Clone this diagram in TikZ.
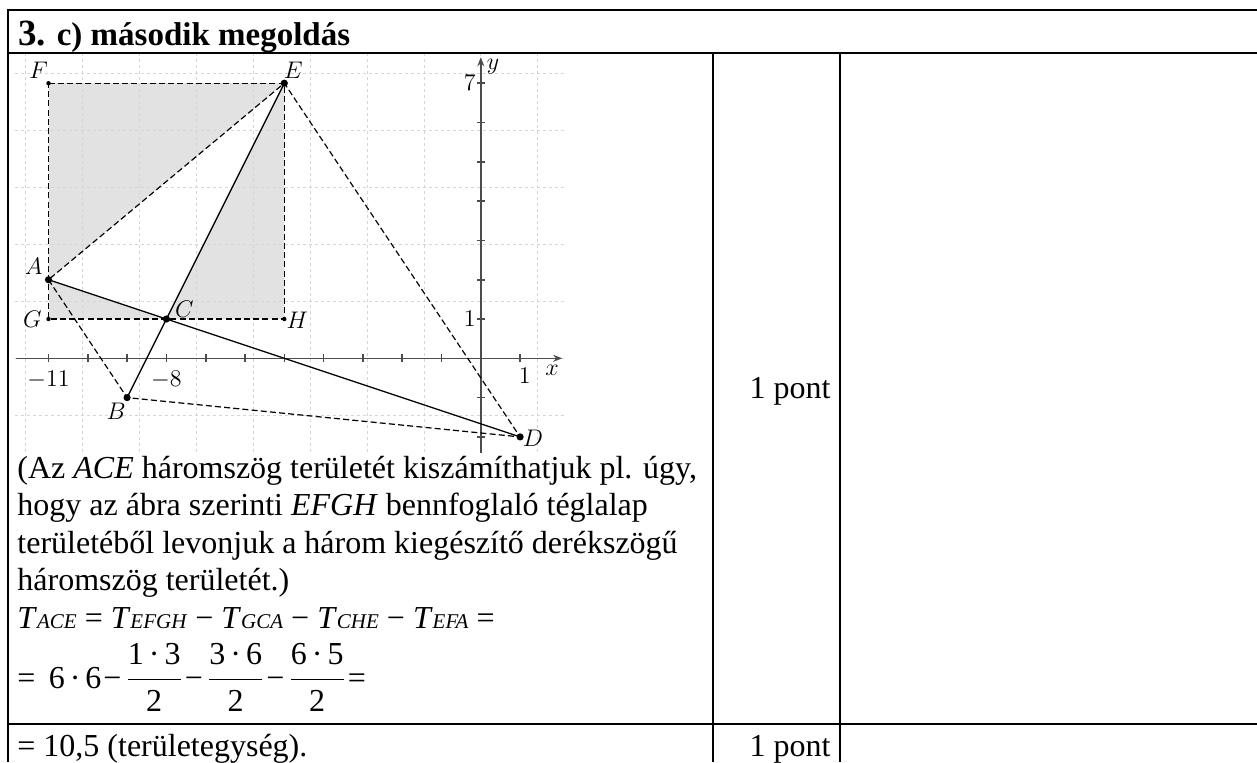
\documentclass[tikz,border=0pt]{standalone}
\usepackage[no-math]{fontspec}
\setmainfont{Liberation Serif}
\usetikzlibrary{arrows.meta}
\definecolor{shadegray}{gray}{0.885}
\newcommand\Tsub[1]{\textit{T}{\fontsize{10.5}{12}\selectfont\textit{#1}}}
\newcommand\cd{\kern2.5pt·\kern2.5pt}
\newcommand\mn{\kern1pt−\kern2pt}
\newcommand\fr[2]{$\displaystyle\frac{\mbox{#1}}{\mbox{#2}}$}
\begin{document}
\begin{tikzpicture}[x=0.5pt,y=-0.5pt,
  tbl/.style={line width=1.3pt},
  txt/.style={anchor=base west, inner sep=0pt, font=\fontsize{16}{18}\selectfont},
  ptxt/.style={anchor=base east, inner sep=0pt, font=\fontsize{16}{18}\selectfont},
  gridl/.style={gray!32, line width=0.35pt, dash pattern=on 1.5pt off 1.5pt},
  axisl/.style={black!70, line width=0.8pt},
  dsh/.style={line width=0.6pt, dash pattern=on 3pt off 1.6pt},
  sol/.style={line width=0.65pt},
  bigdot/.style={circle, fill=black, inner sep=0pt, minimum size=3.6pt},
  smalldot/.style={circle, fill=black, inner sep=0pt, minimum size=2.2pt},
  lbl/.style={inner sep=0pt, font=\fontsize{11.5}{12}\selectfont}]
\useasboundingbox (0,0) rectangle (1257,762);

% table
\draw[tbl] (1257,10) -- (8,10) -- (8,762);
\draw[tbl] (8,53) -- (1257,53);
\draw[tbl] (8,724) -- (1257,724);
\draw[tbl] (713,53) -- (713,762);
\draw[tbl] (840,53) -- (840,762);

\node[txt] (title) at (18,45) {\bfseries{\fontsize{18.5}{20}\selectfont 3.} {\fontsize{16.5}{20}\selectfont c) második megoldás}};

% graph
\begin{scope}[shift={(240.4pt,-179.15pt)}, x=19.65pt, y=19.65pt]
  \coordinate (A) at (-11,2);
  \coordinate (B) at (-9,-1);
  \coordinate (C) at (-8,1);
  \coordinate (D) at (1,-2);
  \coordinate (E) at (-5,7);
  \coordinate (F) at (-11,7);
  \coordinate (G) at (-11,1);
  \coordinate (H) at (-5,1);
  % shading
  \fill[shadegray] (E) -- (F) -- (A) -- cycle;
  \fill[shadegray] (G) -- (C) -- (A) -- cycle;
  \fill[shadegray] (C) -- (H) -- (E) -- cycle;
  % grid
  \begin{scope}
    \clip (-11.85,-2.45) rectangle (2.12,7.72);
    \draw[gridl] (-12,-3) grid (3,8);
  \end{scope}
  % axes
  \draw[axisl,-{Stealth[length=4.5pt,width=3.5pt]}] (-11.82,0) -- (2.07,0);
  \draw[axisl,-{Stealth[length=4.5pt,width=3.5pt]}] (0,-2.42) -- (0,7.66);
  \foreach \t in {-11,...,-1,1} \draw[axisl] (\t,0.1) -- (\t,-0.1);
  \foreach \t in {-2,-1,1,2,...,7} \draw[axisl] (-0.1,\t) -- (0.1,\t);
  \node[lbl] (xm11) at (-11,-0.55) {$-11$};
  \node[lbl] (xm8) at (-8,-0.55) {$-8$};
  \node[lbl] (x1) at (1.12,-0.44) {$1$};
  \node[lbl] (xlab) at (1.81,-0.3) {$x$};
  \node[lbl,anchor=east] (y7) at (-0.12,7) {$7$};
  \node[lbl,anchor=east] (y1) at (-0.12,1) {$1$};
  \node[lbl] (ylab) at (0.31,7.41) {$y$};
  % dashed lines
  \draw[dsh] (F) -- (E) -- (H) -- (G) -- cycle;
  \draw[dsh] (A) -- (B) -- (D) -- (E) -- (A);
  % solid lines
  \draw[sol] (A) -- (D);
  \draw[sol] (B) -- (E);
  % points
  \node[bigdot] (pA) at (A) {};
  \node[bigdot] (pB) at (B) {};
  \node[bigdot] (pC) at (C) {};
  \node[bigdot] (pD) at (D) {};
  \node[bigdot] (pE) at (E) {};
  \node[smalldot] (pF) at (F) {};
  \node[smalldot] (pG) at (G) {};
  \node[smalldot] (pH) at (H) {};
  \node[lbl] (lF) at (-11.25,7.33) {$F$};
  \node[lbl] (lE) at (-4.77,7.33) {$E$};
  \node[lbl] (lA) at (-11.38,2.33) {$A$};
  \node[lbl] (lG) at (-11.41,1) {$G$};
  \node[lbl] (lC) at (-7.54,1.25) {$C$};
  \node[lbl] (lH) at (-4.67,0.97) {$H$};
  \node[lbl] (lB) at (-9.28,-1.36) {$B$};
  \node[lbl] (lD) at (1.33,-2.03) {$D$};
\end{scope}

% text
\node[txt] (t1) at (17,478) {(Az \textit{ACE} háromszög területét kiszámíthatjuk pl. úgy,};
\node[txt] (t2) at (17,515.5) {hogy az ábra szerinti \textit{EFGH} bennfoglaló téglalap};
\node[txt] (t3) at (17,553) {területéből levonjuk a három kiegészítő derékszögű};
\node[txt] (t4) at (17,590.5) {háromszög területét.)};
\node[txt] (t5) at (17,628) {\Tsub{ACE} = \Tsub{EFGH} − \Tsub{GCA} − \Tsub{CHE} − \Tsub{EFA} =};
\node[txt] (t6) at (17,688) {= \,6\cd 6\mn\fr{1\cd 3}{2}\mn\fr{3\cd 6}{2}\mn\fr{6\cd 5}{2}\kern1pt=};
\node[txt] (t7) at (17,756) {= 10,5 (területegység).};
\node[ptxt] (p1) at (831,398) {1 pont};
\node[ptxt] (p2) at (831,756) {1 pont};
\end{tikzpicture}
\end{document}
